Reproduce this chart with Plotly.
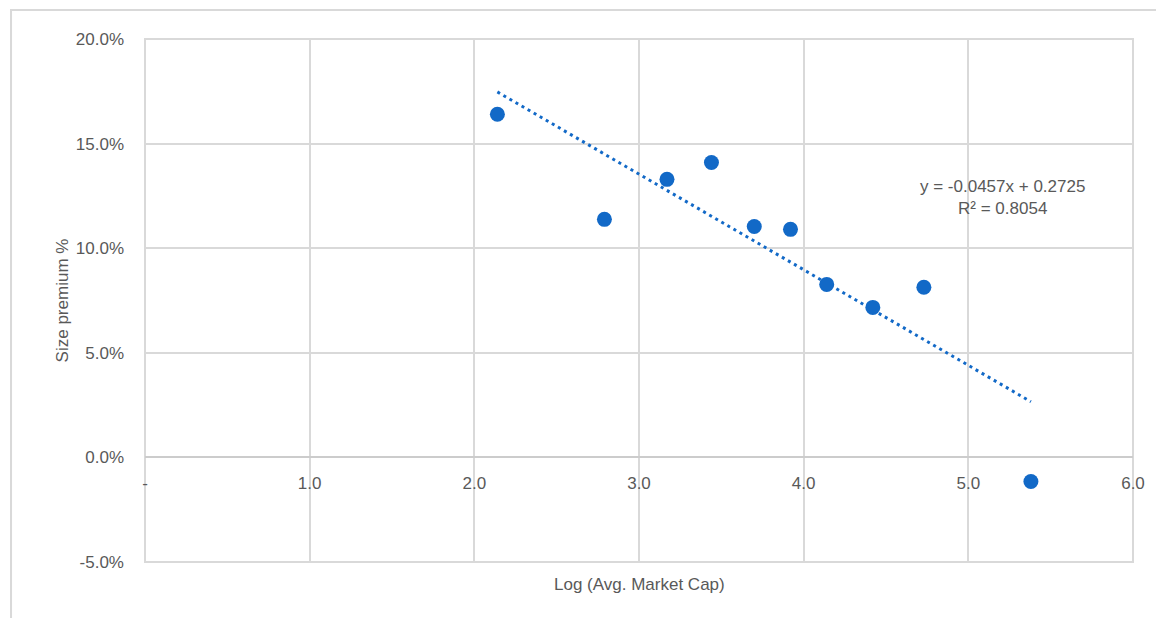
import plotly.graph_objects as go

# Data
log_mcap = [2.14, 2.79, 3.17, 3.44, 3.70, 3.92, 4.14, 4.42, 4.73, 5.38]
size_premium = [0.1640, 0.1138, 0.1329, 0.1410, 0.1104, 0.1090, 0.0827, 0.0717, 0.0813, -0.0115]

trend_slope = -0.0457
trend_intercept = 0.2725
r_squared = 0.8054

x_ticks = [0, 1, 2, 3, 4, 5, 6]
x_tick_labels = ["-", "1.0", "2.0", "3.0", "4.0", "5.0", "6.0"]
y_ticks = [-0.05, 0.0, 0.05, 0.10, 0.15, 0.20]
y_tick_labels = ["-5.0%", "0.0%", "5.0%", "10.0%", "15.0%", "20.0%"]

BLUE = "#1269c7"
GRID = "#d9d9d9"
TXT = "#595959"
FONT = "Liberation Sans, Arial, sans-serif"

trend_x = [min(log_mcap), max(log_mcap)]
trend_y = [trend_slope * v + trend_intercept for v in trend_x]

fig = go.Figure()
fig.add_trace(go.Scatter(
    x=trend_x, y=trend_y, mode="lines",
    line=dict(color=BLUE, width=3, dash="3px,4px"),
    hoverinfo="skip", showlegend=False,
))
fig.add_trace(go.Scatter(
    x=log_mcap, y=size_premium, mode="markers",
    marker=dict(color=BLUE, size=15, line=dict(width=0)),
    showlegend=False,
))

fig.update_layout(
    width=1156, height=610,
    margin=dict(l=137, r=31, t=31, b=56),
    paper_bgcolor="white", plot_bgcolor="white",
    font=dict(family=FONT, size=17, color=TXT),
    xaxis=dict(
        range=[0, 6], tickvals=x_ticks, ticktext=x_tick_labels,
        showgrid=True, gridcolor=GRID, gridwidth=2,
        zeroline=True, zerolinecolor=GRID, zerolinewidth=2,
        showline=False, anchor="free", position=0.2,
        ticks="", ticklabelstandoff=14,
        tickfont=dict(family=FONT, size=17, color=TXT),
    ),
    yaxis=dict(
        range=[-0.05, 0.20], tickvals=y_ticks, ticktext=y_tick_labels,
        showgrid=True, gridcolor=GRID, gridwidth=2,
        zeroline=True, zerolinecolor="#cccccc", zerolinewidth=2,
        showline=False, ticks="", ticklabelstandoff=20,
        tickfont=dict(family=FONT, size=17, color=TXT),
        title=dict(text="Size premium %", standoff=2,
                   font=dict(family=FONT, size=17, color=TXT)),
    ),
    shapes=[
        dict(type="rect", xref="paper", yref="paper",
             x0=-0.1356, y0=-0.3, x1=1.2, y1=1.0554,
             line=dict(color=GRID, width=2), fillcolor="rgba(0,0,0,0)", layer="below"),
        dict(type="rect", xref="paper", yref="paper",
             x0=0, y0=0, x1=1, y1=1,
             line=dict(color=GRID, width=2), fillcolor="rgba(0,0,0,0)", layer="below"),
    ],
    annotations=[
        dict(text="Log (Avg. Market Cap)", xref="paper", yref="paper",
             x=0.5, y=-0.0206, xanchor="center", yanchor="top", showarrow=False,
             font=dict(family=FONT, size=17, color=TXT)),
        dict(text=f"y = {trend_slope:.4f}x + {trend_intercept:.4f}<br>R² = {r_squared:.4f}",
             xref="x", yref="y", x=5.21, y=0.1243, xanchor="center", yanchor="middle",
             align="center", showarrow=False,
             font=dict(family=FONT, size=17, color=TXT)),
    ],
)

fig.write_html("out.html")
